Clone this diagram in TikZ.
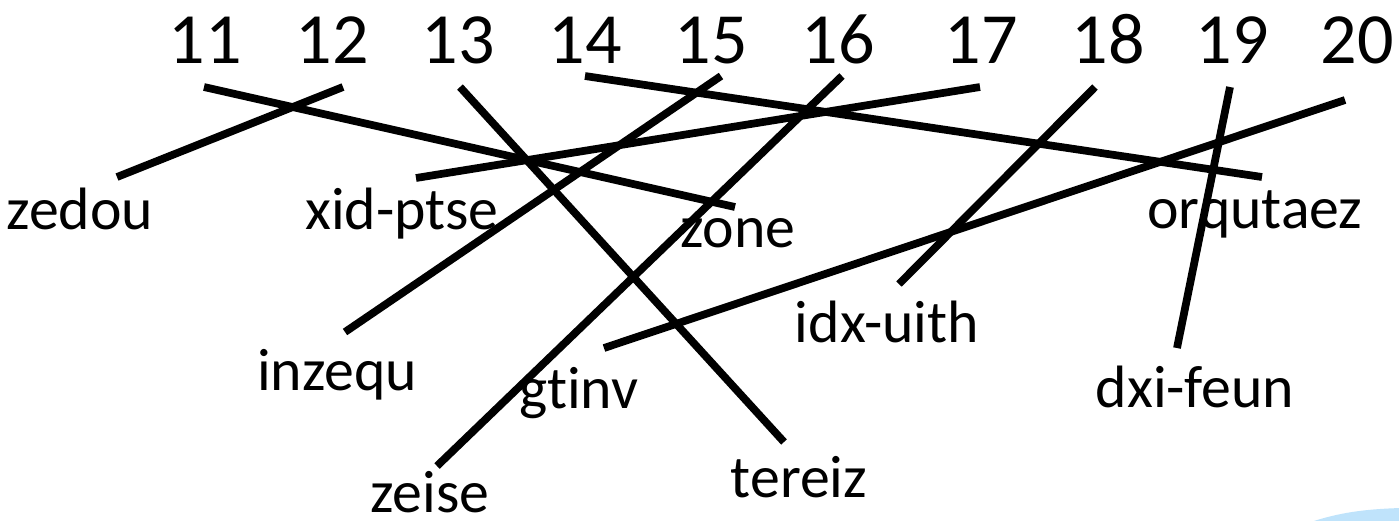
\documentclass[tikz,border=0pt]{standalone}
\usepackage{fontspec}
\setmainfont{Carlito}[Ligatures=NoCommon]
\newcommand\numfont{\fontsize{20.5}{24}\selectfont}
\newcommand\wordfont{\fontsize{17}{20}\selectfont}
\definecolor{swoosh}{HTML}{BFE3FB}
\begin{document}
\begin{tikzpicture}[x=0.01cm, y=-0.01cm,
  num/.style={font=\numfont, anchor=base, inner sep=0pt},
  word/.style={font=\wordfont, anchor=base, inner sep=0pt},
  match/.style={line width=2.2pt}]
\useasboundingbox (0,0) rectangle (1399,520);

% numbers on top
\node[num] (n11) at (205,63) {11};
\node[num] (n12) at (332,63) {12};
\node[num] (n13) at (458,63) {13};
\node[num] (n14) at (585,63) {14};
\node[num] (n15) at (711,63) {15};
\node[num] (n16) at (838,63) {16};
\node[num] (n17) at (981,63) {17};
\node[num] (n18) at (1108,63) {18};
\node[num] (n19) at (1232,63) {19};
\node[num] (n20) at (1357,63) {20};

% words
\node[word] (zedou) at (80,229) {zedou};
\node[word] (xidptse) at (402,229) {xid-ptse};
\node[word] (zone) at (738,247) {zone};
\node[word] (orqutaez) at (1255,228) {orqutaez};
\node[word] (idxuith) at (887,342) {idx-uith};
\node[word] (inzequ) at (337,390) {inzequ};
\node[word] (gtinv) at (579,408) {gtinv};
\node[word] (dxifeun) at (1195,407) {dxi-feun};
\node[word] (tereiz) at (799,497) {tereiz};
\node[word] (zeise) at (430,512) {zeise};

% line ends
\coordinate (t11) at (204,87);   \coordinate (b11) at (735,207);
\coordinate (t12) at (343,87);   \coordinate (b12) at (117,177);
\coordinate (t13) at (460,87);   \coordinate (b13) at (784,442);
\coordinate (t14) at (585,76);   \coordinate (b14) at (1262,177);
\coordinate (t15) at (721,76);   \coordinate (b15) at (345,332);
\coordinate (t16) at (842,76);   \coordinate (b16) at (437,466);
\coordinate (t17) at (980,87);   \coordinate (b17) at (416,178);
\coordinate (t18) at (1095,87);  \coordinate (b18) at (899,284);
\coordinate (t19) at (1230,87);  \coordinate (b19) at (1177,348);
\coordinate (t20) at (1345,100); \coordinate (b20) at (604,348);

\foreach \i in {11,...,20}
  \draw[match] (t\i) -- (b\i);

% corner swoosh
\fill[swoosh] (1314,521) .. controls (1345,511) and (1372,509) .. (1400,508) -- (1400,521) -- cycle;

\end{tikzpicture}
\end{document}
